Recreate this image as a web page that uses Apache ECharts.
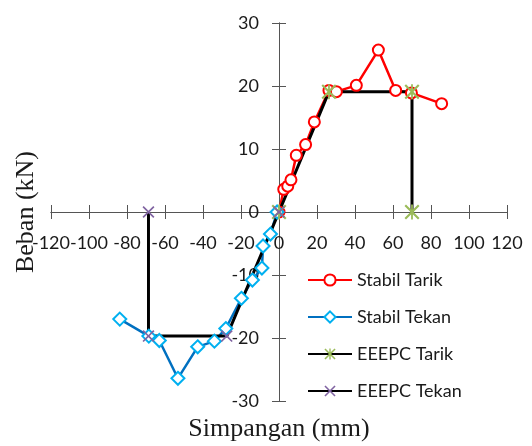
<!DOCTYPE html>
<html>
<head>
<meta charset="utf-8">
<script src="https://cdn.jsdelivr.net/npm/echarts@6/dist/echarts.min.js"></script>
<style>
  html, body { margin: 0; padding: 0; background: #fff; }
  #chart { width: 532px; height: 446px; }
</style>
</head>
<body>
<div id="chart"></div>
<script>
// data: [simpangan (mm), beban (kN)]
const stabilTarik = [
  [0, 0], [2.5, 3.6], [4.6, 4.1], [6.3, 5.1], [9.1, 9.0], [14.0, 10.7], [18.6, 14.3],
  [26.3, 19.3], [30.2, 19.1], [40.7, 20.1], [52.3, 25.7], [61.4, 19.3], [69.7, 18.9], [85.6, 17.2]
]
const stabilTekan = [
  [-1, 0], [-4.5, -3.5], [-8.4, -5.4], [-9.0, -8.9], [-14.0, -10.8], [-19.8, -13.7],
  [-28.0, -18.5], [-34.0, -20.5], [-42.8, -21.4], [-53.2, -26.4], [-63.0, -20.4],
  [-68.5, -19.7], [-83.8, -17.0]
]
const eeepcTarik = [[0, 0], [26.3, 19.1], [70, 19.1], [70, 0]]
const eeepcTekan = [[0, 0], [-27.5, -19.7], [-68.7, -19.7], [-68.7, 0]]

const xMin = -120, xMax = 120, xStep = 20
const yMin = -30, yMax = 30, yStep = 10

const xMark = 'path://M0,1L1,0L5,4L9,0L10,1L6,5L10,9L9,10L5,6L1,10L0,9L4,5Z'
const starMark = 'path://M0,1L1,0L5,4L9,0L10,1L6,5L10,9L9,10L5,6L1,10L0,9L4,5Z M4.4,0L5.6,0L5.6,10L4.4,10Z'

const axisColor = '#555'
const textColor = '#1a1a1a'
const tickFont = { fontFamily: 'Lato', fontSize: 18, color: textColor }

// plot box: 51..507 wide, 23..401 high -> zero lines sit in the middle
const gridBox = { left: 51, right: 25, top: 23, bottom: 45 }
const xShift = -189   // move x axes from the edge to y = 0
const yShift = -228   // move y axes from the edge to x = 0

const chart = echarts.init(document.getElementById('chart'))

chart.setOption({
  animation: false,
  grid: Object.assign({ containLabel: false, outerBoundsMode: 'none' }, gridBox),
  legend: {
    orient: 'vertical',
    left: 302,
    top: 266,
    itemWidth: 44,
    itemHeight: 14,
    itemGap: 19,
    textStyle: { fontFamily: 'Lato', fontSize: 18, color: textColor },
    data: ['Stabil Tarik', 'Stabil Tekan', 'EEEPC Tarik', 'EEEPC Tekan']
  },
  xAxis: [{
    type: 'value',
    position: 'bottom',
    offset: xShift,
    min: xMin, max: xMax, interval: xStep,
    name: 'Simpangan (mm)',
    nameLocation: 'middle',
    nameGap: 204,
    nameTextStyle: { fontFamily: 'Liberation Serif', fontSize: 26, color: textColor },
    axisLine: { onZero: false, lineStyle: { color: axisColor, width: 1 } },
    axisTick: { show: true, length: 7, lineStyle: { color: axisColor } },
    axisLabel: Object.assign({ margin: 22 }, tickFont),
    splitLine: { show: false }
  }, {
    type: 'value',
    position: 'top',
    offset: xShift,
    min: xMin, max: xMax, interval: xStep,
    axisLine: { onZero: false, lineStyle: { color: axisColor, width: 1 } },
    axisTick: { show: true, length: 7, lineStyle: { color: axisColor } },
    axisLabel: { show: false },
    splitLine: { show: false }
  }],
  yAxis: [{
    type: 'value',
    position: 'left',
    offset: yShift,
    min: yMin, max: yMax, interval: yStep,
    name: 'Beban (kN)',
    nameLocation: 'middle',
    nameGap: 240,
    nameTextStyle: { fontFamily: 'Liberation Serif', fontSize: 26, color: textColor },
    axisLine: { onZero: false, lineStyle: { color: axisColor, width: 1 } },
    axisTick: { show: true, length: 7, lineStyle: { color: axisColor } },
    axisLabel: Object.assign({ margin: 20 }, tickFont),
    splitLine: { show: false }
  }, {
    type: 'value',
    position: 'right',
    offset: yShift,
    min: yMin, max: yMax, interval: yStep,
    axisLine: { onZero: false, lineStyle: { color: axisColor, width: 1 } },
    axisTick: { show: true, length: 7, lineStyle: { color: axisColor } },
    axisLabel: { show: false },
    splitLine: { show: false }
  }],
  series: [{
    name: 'Stabil Tarik',
    type: 'line',
    data: stabilTarik,
    symbol: 'circle',
    symbolSize: 11,
    lineStyle: { color: '#ff0000', width: 2.5 },
    itemStyle: { color: '#fff', borderColor: '#ff0000', borderWidth: 2 }
  }, {
    name: 'Stabil Tekan',
    type: 'line',
    data: stabilTekan,
    symbol: 'diamond',
    symbolSize: 13,
    lineStyle: { color: '#0070c0', width: 2.5 },
    itemStyle: { color: '#fff', borderColor: '#00b0f0', borderWidth: 2 }
  }, {
    name: 'EEEPC Tarik',
    type: 'line',
    data: eeepcTarik,
    symbol: starMark,
    symbolSize: 15,
    lineStyle: { color: '#000', width: 3 },
    itemStyle: { color: '#9bbb59', borderWidth: 0 }
  }, {
    name: 'EEEPC Tekan',
    type: 'line',
    data: eeepcTekan,
    symbol: xMark,
    symbolSize: 12,
    lineStyle: { color: '#000', width: 3 },
    itemStyle: { color: '#8064a2', borderWidth: 0 }
  }]
})
</script>
</body>
</html>
